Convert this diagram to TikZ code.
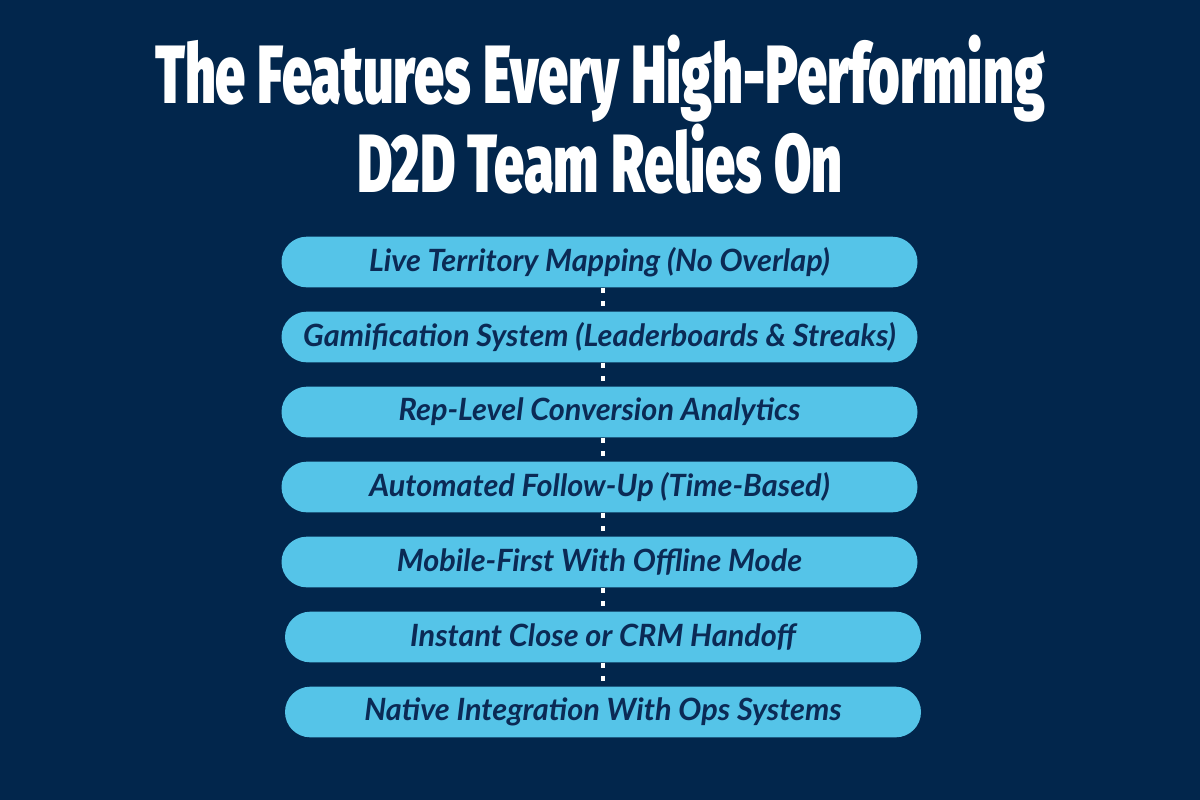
\documentclass[tikz,border=0pt]{standalone}
\usepackage{fontspec}
\setmainfont{Lato}
\newfontfamily\titlefont[FakeStretch=0.654]{Fira Sans Black}
\usetikzlibrary{positioning}
\definecolor{navybg}{HTML}{02264C}
\definecolor{pillblue}{HTML}{55C4E8}
\definecolor{pilltext}{HTML}{0B2A55}
\tikzset{
  pill/.style={fill=pillblue, rounded corners=19pt, minimum width=477pt,
    minimum height=38pt, inner sep=0pt, text=pilltext,
    font=\itshape\bfseries\fontsize{23}{26}\selectfont},
  titletext/.style={anchor=base, text=white, inner sep=0pt, align=center,
    font=\titlefont\fontsize{62}{48.75}\selectfont},
  dots/.style={draw=white, line width=3.5pt, dash pattern=on 4pt off 6pt}
}
\begin{document}
\begin{tikzpicture}[x=0.75pt, y=-0.75pt]
    % Background
    \fill [navybg] (0,0) rectangle (1200,800);
    \useasboundingbox (0,0) rectangle (1200,800);
    % Title
    \node [titletext] (title) at (600,192) {The Features Every High-Performing\\D2D Team Relies On};
    % The feature pills
    \node [pill] (live) at (599.5,262) {Live Territory Mapping (No Overlap)};
    \node [pill] (game) at (599.5,337) {Gamification System (Leaderboards \& Streaks)};
    \node [pill] (conv) at (599.5,412) {Rep-Level Conversion Analytics};
    \node [pill] (follow) at (599.5,487) {Automated Follow-Up (Time-Based)};
    \node [pill] (mobile) at (599.5,562) {Mobile-First With Offline Mode};
    \node [pill] (close) at (603,637) {Instant Close or CRM Handoff};
    \node [pill] (native) at (603,712) {Native Integration With Ops Systems};
    % Dotted links between the pills
    \draw [dots] (live.south -| 603,0) -- (game.north -| 603,0);
    \draw [dots] (game.south -| 603,0) -- (conv.north -| 603,0);
    \draw [dots] (conv.south -| 603,0) -- (follow.north -| 603,0);
    \draw [dots] (follow.south -| 603,0) -- (mobile.north -| 603,0);
    \draw [dots] (mobile.south -| 603,0) -- (close.north);
    \draw [dots] (close.south) -- (native.north);
  \end{tikzpicture}
\end{document}
